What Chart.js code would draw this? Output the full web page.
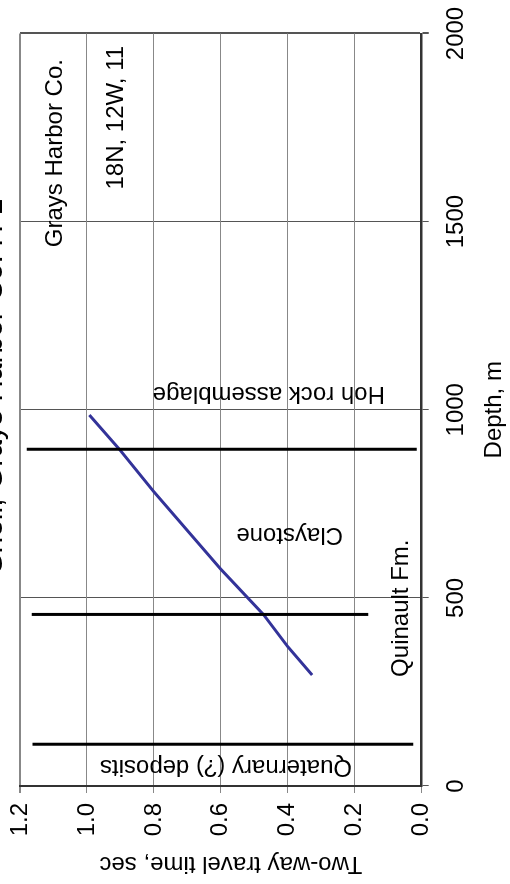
<!DOCTYPE html>
<html>
<head>
<meta charset="utf-8">
<script src="https://cdn.jsdelivr.net/npm/chart.js@4"></script>
<style>
  html, body { margin: 0; padding: 0; background: #fff; overflow: hidden; width: 510px; height: 884px; }
  /* chart is drawn upright, then turned a quarter turn to the left like the scan */
  #wrap { position: absolute; left: 0; top: 0; width: 884px; height: 510px;
          transform-origin: 0 0; transform: translateY(884px) rotate(-90deg); }
</style>
</head>
<body>
<div id="wrap"><canvas id="c" width="884" height="510"></canvas></div>
<script>
// travel-time curve
const depthM = [295, 370, 456, 576, 782, 895, 986];
const travelTime = [0.327, 0.400, 0.473, 0.600, 0.800, 0.903, 0.993];

// formation contacts (vertical bars in the upright chart)
const contactDepth = [111, 456, 895];
const contactTop = [1.163, 1.165, 1.180];
const contactBottom = [0.025, 0.160, 0.015];

const depthTicks = [0, 500, 1000, 1500, 2000];
const timeTicks = [0, 0.2, 0.4, 0.6, 0.8, 1.0, 1.2];

const chartTitle = 'Shell, Grays Harbor Co. H-1';
const timeTitle = 'Two-way travel time, sec';

// text labels, anchored in data units
const notes = [
  { text: 'Grays Harbor Co.', depth: 1932, time: 1.074, vertical: false, align: 'right' },
  { text: '18N, 12W, 11', depth: 1967, time: 0.892, vertical: false, align: 'right' },
  { text: 'Quinault Fm.', depth: 290, time: 0.041, vertical: false, align: 'left' },
  { text: 'Quaternary (?) deposits', depth: 69, time: 0.208, vertical: true },
  { text: 'Claystone', depth: 686, time: 0.235, vertical: true },
  { text: 'Hoh rock assemblage', depth: 1060, time: 0.110, vertical: true }
];

const FONT = "'Liberation Sans', Arial, sans-serif";
Chart.defaults.font.family = FONT;
Chart.defaults.font.size = 24;
Chart.defaults.color = '#000';

const datasets = contactDepth.map((d, i) => ({
  data: [{ x: d, y: contactBottom[i] }, { x: d, y: contactTop[i] }],
  showLine: true,
  borderColor: '#000',
  borderWidth: 3,
  pointRadius: 0
}));
datasets.push({
  data: depthM.map((d, i) => ({ x: d, y: travelTime[i] })),
  showLine: true,
  borderColor: '#333399',
  borderWidth: 3,
  pointRadius: 0
});

const notesPlugin = {
  id: 'notes',
  afterDatasetsDraw(chart) {
    const ctx = chart.ctx;
    const xs = chart.scales.x, ys = chart.scales.y;
    ctx.save();
    ctx.font = '24px ' + FONT;
    ctx.fillStyle = '#000';
    ctx.textBaseline = 'alphabetic';
    notes.forEach(n => {
      const px = xs.getPixelForValue(n.depth);
      const py = ys.getPixelForValue(n.time);
      ctx.save();
      ctx.translate(px, py);
      if (n.vertical) {
        ctx.rotate(-Math.PI / 2);
        ctx.textAlign = 'left';
      } else {
        ctx.textAlign = n.align;
      }
      ctx.fillText(n.text, 0, 0);
      ctx.restore();
    });
    ctx.restore();
  },
  afterDraw(chart) {
    const ctx = chart.ctx;
    const area = chart.chartArea;
    ctx.save();
    ctx.fillStyle = '#000';
    // axis title sits a little off-centre in the scan
    ctx.font = '24px ' + FONT;
    ctx.textAlign = 'center';
    ctx.textBaseline = 'middle';
    ctx.translate(20.7, (area.top + area.bottom) / 2 + 10);
    ctx.rotate(-Math.PI / 2);
    ctx.fillText(timeTitle, 0, 0);
    ctx.setTransform(1, 0, 0, 1, 0, 0);
    // title sits mostly off the top edge in the scan
    ctx.font = '30px ' + FONT;
    ctx.textBaseline = 'alphabetic';
    ctx.fillText(chartTitle, 498, 1.5);
    ctx.restore();
  }
};

new Chart(document.getElementById('c'), {
  type: 'scatter',
  data: { datasets },
  plugins: [notesPlugin],
  options: {
    responsive: false,
    animation: false,
    layout: { padding: { top: 20, right: 33.5, left: 0, bottom: 0 } },
    plugins: { legend: { display: false }, tooltip: { enabled: false } },
    scales: {
      x: {
        type: 'linear',
        min: 0,
        max: 2000,
        afterBuildTicks: s => { s.ticks = depthTicks.map(v => ({ value: v })); },
        afterFit: s => { s.height = 88.3; s.paddingLeft = 0; s.paddingRight = 0; },
        ticks: { padding: 13, callback: v => String(v) },
        grid: { color: '#555', lineWidth: c => (c.tick && c.tick.value === 2000 ? 2 : 1), tickLength: 7 },
        border: { color: '#333', width: 2.5 },
        title: { display: true, text: 'Depth, m', padding: { top: 0, bottom: 1 } }
      },
      y: {
        type: 'linear',
        min: 0,
        max: 1.2,
        afterBuildTicks: s => { s.ticks = timeTicks.map(v => ({ value: v })); },
        afterFit: s => { s.width = 98; s.paddingTop = 0; s.paddingBottom = 0; },
        ticks: { padding: 10, callback: v => v.toFixed(1) },
        grid: { color: '#888', lineWidth: c => (c.tick && c.tick.value === 1.2 ? 2 : 1), tickLength: 7 },
        border: { color: '#333', width: 2 }
      }
    }
  }
});
</script>
</body>
</html>
